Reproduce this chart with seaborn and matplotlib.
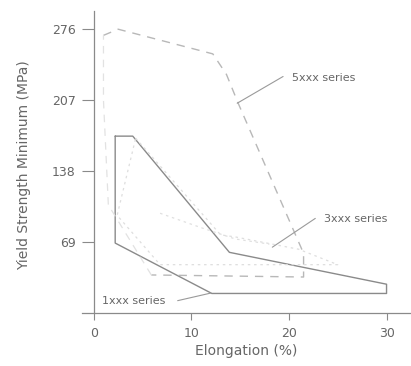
import matplotlib
matplotlib.use("Agg")
import matplotlib.pyplot as plt
import seaborn as sns
import pandas as pd

# outline of each alloy region (elongation %, yield strength MPa)
x_1xxx = [2.2, 4.0, 13.9, 30.0, 30.0, 12.1, 2.2, 2.2]
y_1xxx = [172, 172, 59, 28, 19, 19, 68, 172]

x_5xxx = [1.0, 2.5, 12.2, 13.6, 14.8, 21.5, 21.5, 5.9]
y_5xxx = [270, 276, 252, 232, 204, 58, 35, 37]
# left edge of the 5xxx region is barely printed
x_5xxx_left = [5.9, 1.5, 1.0, 1.0]
y_5xxx_left = [37, 105, 207, 270]

x_3xxx = [4.3, 13.0, 14.5, 21.0, 25.0, 6.8, 2.4, 4.3]
y_3xxx = [170, 76, 74, 62, 47, 47, 95, 170]
x_3xxx_upper = [6.8, 11.0, 14.5, 18.0]
y_3xxx_upper = [97, 83, 72, 67]

labels = ["1xxx series", "3xxx series", "5xxx series"]
label_xy = [(0.9, 12), (23.6, 91), (20.3, 229)]
leader_from = [(8.6, 12), (22.7, 92), (19.4, 230)]
leader_to = [(12.0, 19.4), (18.3, 64), (14.7, 204)]

x_ticks = [0, 10, 20, 30]
y_ticks = [69, 138, 207, 276]

sns.set_style("white")
plt.rcParams['font.family'] = ['DejaVu Sans']

fig = plt.figure(figsize=(4.11, 3.66), dpi=100)
ax = fig.add_axes([0.1995, 0.1448, 0.798, 0.826])

df1 = pd.DataFrame({"x": x_1xxx, "y": y_1xxx})
df5 = pd.DataFrame({"x": x_5xxx, "y": y_5xxx})
df5l = pd.DataFrame({"x": x_5xxx_left, "y": y_5xxx_left})
df3 = pd.DataFrame({"x": x_3xxx, "y": y_3xxx})
df3u = pd.DataFrame({"x": x_3xxx_upper, "y": y_3xxx_upper})

sns.lineplot(data=df1, x="x", y="y", sort=False, estimator=None, ax=ax,
             color="#8a8a8a", lw=1.0)
sns.lineplot(data=df5, x="x", y="y", sort=False, estimator=None, ax=ax,
             color="#b8b8b8", lw=1.0, linestyle=(0, (6, 5)))
sns.lineplot(data=df5l, x="x", y="y", sort=False, estimator=None, ax=ax,
             color="#e2e2e2", lw=0.9, linestyle=(0, (6, 5)))
sns.lineplot(data=df3, x="x", y="y", sort=False, estimator=None, ax=ax,
             color="#dedede", lw=0.9, linestyle=(0, (2, 3)))
sns.lineplot(data=df3u, x="x", y="y", sort=False, estimator=None, ax=ax,
             color="#e0e0e0", lw=0.9, linestyle=(0, (2, 3)))

for lab, (tx, ty), (fx, fy), (lx, ly) in zip(labels, label_xy, leader_from, leader_to):
    ax.text(tx, ty, lab, fontsize=8, color="#666666", va="center", ha="left")
    ax.plot([fx, lx], [fy, ly], color="#9a9a9a", lw=0.8)

ax.set_xlim(-1.2, 32.4)
ax.set_ylim(0, 294)
ax.set_xticks(x_ticks)
ax.set_yticks(y_ticks)
ax.spines['left'].set_position(('data', 0))
ax.spines['top'].set_visible(False)
ax.spines['right'].set_visible(False)
for s in ['left', 'bottom']:
    ax.spines[s].set_color("#8a8a8a")
    ax.spines[s].set_linewidth(0.9)
ax.tick_params(axis='y', length=9, width=0.8, color="#8a8a8a", pad=4,
               labelsize=9, labelcolor="#666666", left=True)
ax.tick_params(axis='x', length=5, width=0.8, color="#8a8a8a", pad=5,
               labelsize=9, labelcolor="#666666", bottom=True)

ax.set_xlabel("Elongation (%)", fontsize=10, color="#666666", labelpad=3)
ax.set_ylabel("")
fig.text(24 / 411, 1 - 165 / 366, "Yield Strength Minimum (MPa)", rotation=90,
         fontsize=10, color="#666666", ha="center", va="center")

fig.savefig("out.png", dpi=100, facecolor="white")
